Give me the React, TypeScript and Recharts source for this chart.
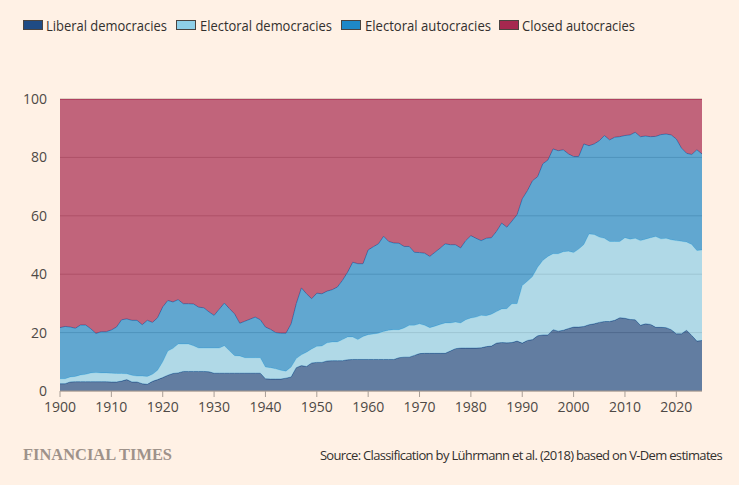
import { AreaChart, Area, XAxis, YAxis, CartesianGrid } from 'recharts';

const START_YEAR = 1900;

// shares of countries (%) by regime type, one value per year from 1900
const liberal = [
  2.5, 2.5, 3.1, 3.2, 3.2, 3.2, 3.2, 3.2, 3.2, 3.2,
  3.1, 3.1, 3.4, 3.9, 3.1, 3.1, 2.5, 2.3, 3.3, 3.9,
  4.6, 5.4, 6.0, 6.2, 6.7, 6.7, 6.7, 6.7, 6.7, 6.6,
  6.1, 6.1, 6.1, 6.1, 6.1, 6.1, 6.1, 6.1, 6.1, 6.1,
  4.2, 4.1, 4.1, 4.1, 4.4, 4.8, 8.0, 8.7, 8.4, 9.6,
  9.8, 9.8, 10.3, 10.4, 10.4, 10.4, 10.7, 10.8, 10.8, 10.8,
  10.8, 10.8, 10.8, 10.8, 10.8, 10.8, 11.4, 11.6, 11.6, 12.2,
  12.8, 12.9, 12.9, 12.9, 12.9, 12.9, 13.7, 14.5, 14.7, 14.7,
  14.7, 14.7, 14.8, 15.2, 15.4, 16.4, 16.6, 16.5, 16.6, 17.1,
  16.4, 17.3, 17.6, 18.9, 19.2, 19.2, 21.0, 20.5, 20.8, 21.4,
  21.9, 21.9, 22.1, 22.7, 23.0, 23.5, 23.8, 23.8, 24.2, 25.1,
  24.9, 24.5, 24.4, 22.5, 23.0, 22.8, 21.8, 21.8, 21.7, 21.0,
  19.6, 19.6, 20.8, 19.0, 17.1, 17.3,
];

const electoralDem = [
  1.7, 1.7, 1.7, 1.8, 2.3, 2.5, 3.0, 3.1, 3.0, 3.0,
  3.0, 2.9, 2.6, 2.0, 2.3, 2.0, 2.6, 2.7, 2.4, 3.2,
  5.4, 8.3, 8.6, 9.9, 9.4, 9.4, 8.8, 8.0, 8.0, 8.1,
  8.6, 8.6, 9.4, 7.7, 6.0, 5.9, 5.3, 5.3, 5.3, 5.3,
  4.0, 3.9, 3.5, 3.0, 2.4, 3.4, 3.1, 3.7, 4.9, 4.8,
  5.5, 5.6, 6.2, 6.4, 6.4, 7.2, 7.8, 7.7, 6.8, 7.9,
  8.5, 8.7, 9.0, 9.6, 10.0, 10.2, 9.6, 10.0, 10.9, 10.3,
  10.2, 9.6, 8.8, 9.3, 9.9, 10.4, 9.6, 9.1, 8.6, 9.7,
  10.3, 10.6, 11.1, 10.6, 10.9, 10.8, 11.5, 11.7, 13.3, 12.8,
  19.7, 20.3, 21.6, 23.5, 25.5, 26.9, 26.0, 26.5, 26.9, 26.5,
  25.5, 26.7, 28.1, 31.1, 30.6, 29.2, 28.5, 27.4, 27.0, 26.1,
  27.6, 27.5, 27.9, 29.0, 29.0, 29.7, 31.1, 30.3, 30.6, 30.8,
  31.9, 31.7, 30.2, 31.2, 31.0, 31.0,
];

const electoralAut = [
  17.5, 17.9, 17.1, 16.5, 17.1, 16.9, 15.1, 13.4, 14.1, 14.1,
  14.8, 15.9, 18.4, 18.8, 18.8, 19.1, 17.6, 19.2, 17.8, 18.0,
  18.8, 17.3, 15.9, 15.2, 13.8, 13.8, 14.3, 14.0, 13.8, 12.4,
  11.2, 13.3, 14.6, 14.4, 14.3, 11.2, 12.5, 13.2, 13.9, 13.0,
  13.7, 13.1, 12.4, 12.7, 13.0, 14.8, 18.8, 22.9, 20.0, 17.2,
  18.2, 17.9, 17.7, 17.9, 18.8, 20.3, 22.2, 25.6, 26.0, 24.9,
  29.0, 29.9, 30.6, 32.6, 30.4, 29.7, 29.6, 27.9, 27.0, 25.0,
  24.4, 24.7, 24.4, 25.3, 26.1, 27.1, 26.8, 26.5, 25.7, 27.1,
  28.2, 27.0, 25.6, 26.5, 26.2, 27.5, 29.4, 27.9, 28.3, 30.5,
  29.7, 31.0, 32.8, 31.0, 33.1, 33.0, 35.9, 35.3, 34.9, 33.3,
  32.9, 31.7, 34.4, 30.2, 31.0, 33.0, 35.2, 34.8, 35.7, 35.9,
  35.0, 35.7, 36.3, 35.6, 35.3, 34.6, 34.3, 35.7, 35.7, 35.9,
  34.8, 31.9, 30.4, 30.8, 34.5, 32.9,
];

const closedAut = [
  78.3, 77.9, 78.1, 78.5, 77.4, 77.4, 78.7, 80.3, 79.7, 79.7,
  79.1, 78.1, 75.6, 75.3, 75.8, 75.8, 77.3, 75.8, 76.5, 74.9,
  71.2, 69.0, 69.5, 68.7, 70.1, 70.1, 70.2, 71.3, 71.5, 72.9,
  74.1, 72.0, 69.9, 71.8, 73.6, 76.8, 76.1, 75.4, 74.7, 75.6,
  78.1, 78.9, 80.0, 80.2, 80.2, 77.0, 70.1, 64.7, 66.7, 68.4,
  66.5, 66.7, 65.8, 65.3, 64.4, 62.1, 59.3, 55.9, 56.4, 56.4,
  51.7, 50.6, 49.6, 47.0, 48.8, 49.3, 49.4, 50.5, 50.5, 52.5,
  52.6, 52.8, 53.9, 52.5, 51.1, 49.6, 49.9, 49.9, 51.0, 48.5,
  46.8, 47.7, 48.5, 47.7, 47.5, 45.3, 42.5, 43.9, 41.8, 39.6,
  34.2, 31.4, 28.0, 26.6, 22.2, 20.9, 17.1, 17.7, 17.4, 18.8,
  19.7, 19.7, 15.4, 16.0, 15.4, 14.3, 12.5, 14.0, 13.1, 12.9,
  12.5, 12.3, 11.4, 12.9, 12.7, 12.9, 12.8, 12.2, 12.0, 12.3,
  13.7, 16.8, 18.6, 19.0, 17.4, 18.8,
];

const xTicks = [1900, 1910, 1920, 1930, 1940, 1950, 1960, 1970, 1980, 1990, 2000, 2010, 2020];
const yTicks = [0, 20, 40, 60, 80, 100];

const series = [
  { key: 'liberal', name: 'Liberal democracies', color: '#1f4b84', values: liberal, legendX: 23, textX: 46, textW: 121 },
  { key: 'electoralDem', name: 'Electoral democracies', color: '#8ecfe8', values: electoralDem, legendX: 176, textX: 200, textW: 132 },
  { key: 'electoralAut', name: 'Electoral autocracies', color: '#1e88c8', values: electoralAut, legendX: 341, textX: 365, textW: 126 },
  { key: 'closedAut', name: 'Closed autocracies', color: '#a6284f', values: closedAut, legendX: 499, textX: 522, textW: 113 },
];

const data = liberal.map((_, i) => {
  const row: Record<string, number> = { year: START_YEAR + i };
  series.forEach((s) => {
    row[s.key] = s.values[i];
  });
  return row;
});

const BG = '#fff1e5';
const TEXT = '#33302e';
const AXIS_TEXT = '#4e4946';
const FONT = '"Open Sans", "Noto Sans", sans-serif';

export default function App() {
  return (
    <div
      style={{
        position: 'absolute',
        left: 0,
        top: 0,
        width: 739,
        height: 485,
        background: BG,
        fontFamily: FONT,
      }}
    >
      <AreaChart
        width={739}
        height={485}
        data={data}
        margin={{ top: 99, right: 37, left: 0, bottom: 64 }}
      >
        <CartesianGrid vertical={false} stroke="#bfaea1" strokeWidth={1} />
        <XAxis
          dataKey="year"
          type="number"
          domain={[1900, 2025]}
          ticks={xTicks}
          height={30}
          tickSize={6}
          tickMargin={5}
          axisLine={{ stroke: '#a89e96' }}
          tickLine={{ stroke: '#a89e96' }}
          tick={{ fill: AXIS_TEXT, fontSize: 14, fontFamily: FONT }}
        />
        <YAxis
          type="number"
          domain={[0, 100]}
          allowDataOverflow
          ticks={yTicks}
          width={60}
          tickSize={6}
          tickMargin={7}
          axisLine={false}
          tickLine={false}
          tick={{ fill: AXIS_TEXT, fontSize: 14, fontFamily: FONT }}
        />
        {series.map((s) => (
          <Area
            key={s.key}
            dataKey={s.key}
            name={s.name}
            stackId="regimes"
            type="linear"
            fill={s.color}
            fillOpacity={0.7}
            stroke={s.color}
            strokeWidth={1}
            isAnimationActive={false}
          />
        ))}
      </AreaChart>
      <svg
        width={739}
        height={485}
        style={{ position: 'absolute', left: 0, top: 0, pointerEvents: 'none' }}
      >
        {series.map((s) => (
          <g key={s.key}>
            <rect
              x={s.legendX + 0.5}
              y={20.5}
              width={19}
              height={9}
              fill={s.color}
              stroke="#4a4440"
              strokeWidth={1}
            />
            <text
              x={s.textX}
              y={30.5}
              fontSize={14}
              fill={TEXT}
              fontFamily={FONT}
              textLength={s.textW}
              lengthAdjust="spacingAndGlyphs"
            >
              {s.name}
            </text>
          </g>
        ))}
        <text
          x={23}
          y={460}
          fontSize={17}
          fill="#9e928a"
          fontFamily='"Liberation Serif", "DejaVu Serif", serif'
          fontWeight={600}
          textLength={149}
          lengthAdjust="spacingAndGlyphs"
        >
          FINANCIAL TIMES
        </text>
      </svg>
      <div
        style={{
          position: 'absolute',
          right: 17,
          top: 447,
          fontSize: 13,
          letterSpacing: -0.67,
          lineHeight: '16px',
          color: TEXT,
          fontFamily: FONT,
          whiteSpace: 'nowrap',
        }}
      >
        Source: Classification by Lührmann et al. (2018) based on V-Dem estimates
      </div>
    </div>
  );
}
